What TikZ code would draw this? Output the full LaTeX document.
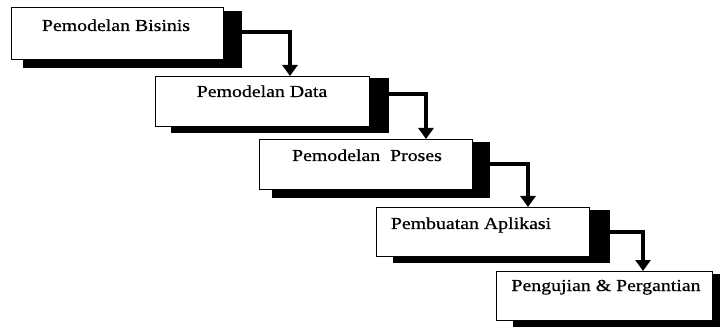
\documentclass[tikz,border=0pt]{standalone}
\usepackage{fontspec}
\setmainfont{Liberation Serif}[FakeStretch=1.18,FakeBold=0.6]
\usetikzlibrary{arrows.meta,calc}
\begin{document}
\begin{tikzpicture}[x=1pt,y=-1pt,
  box/.style={draw=black,line width=1.2pt,fill=white,rectangle,inner sep=0pt},
  shadowfill/.style={fill=black},
  lbl/.style={anchor=base,inner sep=0pt,font=\fontsize{16.8}{19}\selectfont},
  arr/.style={line width=3.4pt,-{Triangle[width=15pt,length=11pt]}}]
\useasboundingbox (0,0) rectangle (720,331);
% shadows
\fill[shadowfill] (23,11) rectangle (242,68);
\coordinate (s1) at (242,32);
\fill[shadowfill] (171,78) rectangle (389,133);
\coordinate (s2) at (389,94);
\fill[shadowfill] (272,142) rectangle (490,198);
\coordinate (s3) at (490,164);
\fill[shadowfill] (393,210) rectangle (610,263);
\coordinate (s4) at (610,232);
\fill[shadowfill] (513,274) rectangle (720,327);
% boxes
\node[box,anchor=north west,minimum width=212pt,minimum height=52pt] (b1) at (11,7) {};
\node[box,anchor=north west,minimum width=214pt,minimum height=50pt] (b2) at (155,76) {};
\node[box,anchor=north west,minimum width=213pt,minimum height=50pt] (b3) at (259,139) {};
\node[box,anchor=north west,minimum width=213pt,minimum height=49pt] (b4) at (376,207) {};
\node[box,anchor=north west,minimum width=216pt,minimum height=49pt] (b5) at (496,271) {};
% labels
\node[lbl] (t1) at (116,31) {Pemodelan Bisinis};
\node[lbl] (t2) at (262,97) {Pemodelan Data};
\node[lbl] (t3) at (367,161) {Pemodelan\ \ Proses};
\node[lbl] (t4) at (471,229) {Pembuatan Aplikasi};
\node[lbl] (t5) at (606,291) {Pengujian \& Pergantian};
% connectors
\coordinate (c1) at (290,32);
\coordinate (c2) at (426,94);
\coordinate (c3) at (528,164);
\coordinate (c4) at (643,232);
\draw[arr] (s1) -- (c1) -- (c1 |- b2.north);
\draw[arr] (s2) -- (c2) -- (c2 |- b3.north);
\draw[arr] (s3) -- (c3) -- (c3 |- b4.north);
\draw[arr] (s4) -- (c4) -- (c4 |- b5.north);
\end{tikzpicture}
\end{document}
